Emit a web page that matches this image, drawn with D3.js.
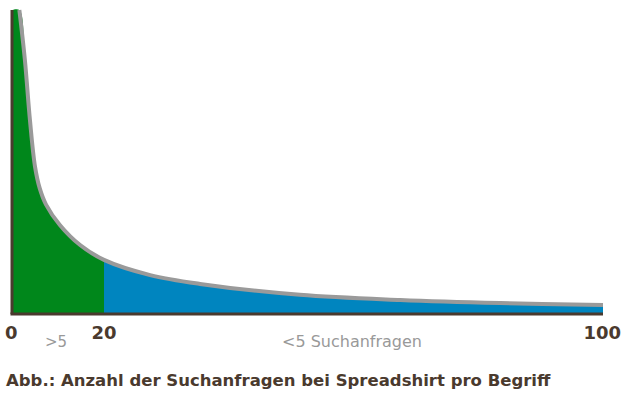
<!DOCTYPE html>
<html><head><meta charset="utf-8">
<script src="https://cdn.jsdelivr.net/npm/d3@7"></script>
<style>body{margin:0;background:#fff}</style></head>
<body><svg id="c" width="624" height="400"></svg>
<script>
// Suchbegriffe (Rang) und relative Anzahl Suchanfragen
const ranks = [1.6, 2.8, 3.9, 5.0, 6.0, 7.4, 10.4, 14.8, 20, 27.4, 35.4, 51.4, 67.5, 83.5, 100];
const counts = [100, 83.6, 63.8, 48.5, 41.5, 36.0, 29.3, 22.7, 17.8, 12.8, 9.9, 6.3, 4.6, 3.6, 3.0];
const tickLabels = [0, 20, 100];
const split = 20;

const data = ranks.map((r, i) => ({ x: r, y: counts[i] }));
const svg = d3.select("#c");
const x = d3.scaleLinear().domain([0, 20, 100]).range([12, 104, 603]);
const y = d3.scaleLinear().domain([0, 100]).range([314, 10]);

const area = d3.area().x(d => x(d.x)).y0(y(0)).y1(d => y(d.y)).curve(d3.curveCatmullRom);
const line = d3.line().x(d => x(d.x)).y(d => y(d.y)).curve(d3.curveCatmullRom);
const areaData = [{ x: 0, y: 100 }].concat(data);

svg.append("clipPath").attr("id", "cg").append("rect")
    .attr("x", x(0)).attr("y", 0).attr("width", x(split) - x(0)).attr("height", 400);
svg.append("clipPath").attr("id", "cb").append("rect")
    .attr("x", x(split)).attr("y", 0).attr("width", x(100) - x(split) + 5).attr("height", 400);

svg.append("path").datum(areaData).attr("d", area).attr("fill", "#00871b").attr("clip-path", "url(#cg)");
svg.append("path").datum(areaData).attr("d", area).attr("fill", "#0085bf").attr("clip-path", "url(#cb)");
svg.append("path").datum(data).attr("d", line).attr("fill", "none")
    .attr("stroke", "#9a9a9a").attr("stroke-width", 4);

// Achsen
svg.append("line").attr("x1", x(0)).attr("x2", x(0)).attr("y1", 10).attr("y2", y(0))
    .attr("stroke", "#4a3a2e").attr("stroke-width", 3);
svg.append("line").attr("x1", x(0) - 1.5).attr("x2", x(100)).attr("y1", y(0)).attr("y2", y(0))
    .attr("stroke", "#4a3a2e").attr("stroke-width", 3);

const font = "'DejaVu Sans', sans-serif";
svg.append("g").selectAll("text").data(tickLabels).enter().append("text")
    .attr("x", d => x(d)).attr("y", 339)
    .attr("text-anchor", d => d === 0 ? "start" : d === 100 ? "end" : "middle")
    .attr("dx", d => d === 0 ? -7 : d === 100 ? 18 : 0)
    .attr("font-family", font).attr("font-size", 18).attr("font-weight", "bold")
    .attr("fill", "#4a3a2e").text(d => d);

svg.append("text").attr("x", 56).attr("y", 347).attr("text-anchor", "middle")
    .attr("font-family", font).attr("font-size", 15).attr("fill", "#999").text(">5");
svg.append("text").attr("x", 352).attr("y", 347).attr("text-anchor", "middle")
    .attr("font-family", font).attr("font-size", 16).attr("fill", "#999").text("<5 Suchanfragen");

svg.append("text").attr("x", 6).attr("y", 386)
    .attr("font-family", font).attr("font-size", 16.5).attr("font-weight", "bold")
    .attr("fill", "#4a3a2e").text("Abb.: Anzahl der Suchanfragen bei Spreadshirt pro Begriff");
</script></body></html>
